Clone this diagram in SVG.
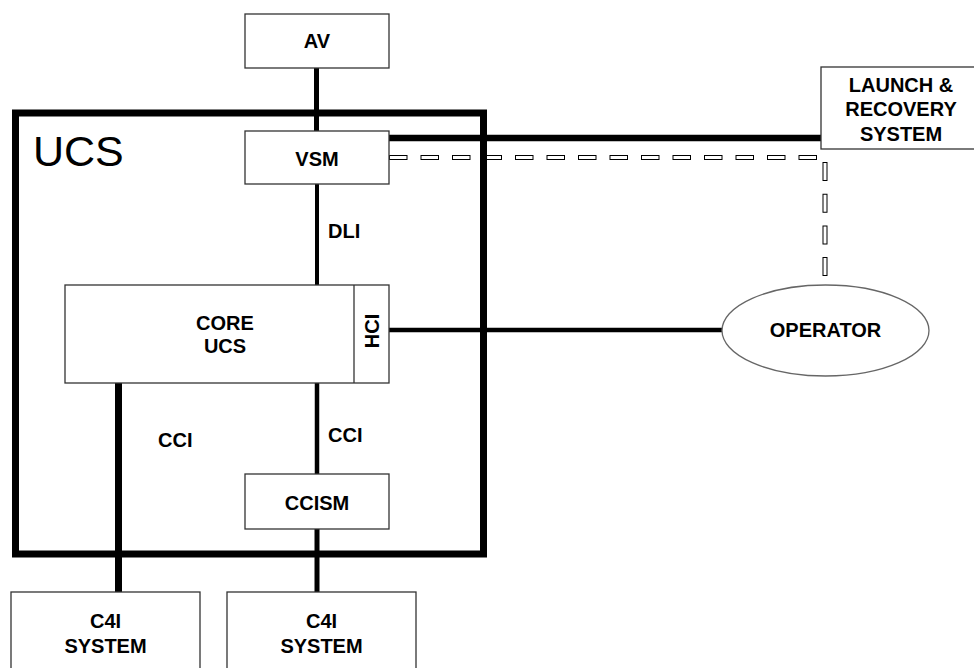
<svg xmlns="http://www.w3.org/2000/svg" width="974" height="668" viewBox="0 0 974 668">
<style>
.box{fill:#fff;stroke:#333;stroke-width:1.3}
.t{font-family:"Liberation Sans",Arial,sans-serif;font-weight:bold;font-size:20px;fill:#000}
.m{text-anchor:middle}
.ln{stroke:#000;fill:none;stroke-linecap:butt}
</style>
<rect width="974" height="668" fill="#fff"/>
<g id="connectors">
  <line class="ln" x1="316.5" y1="68" x2="316.5" y2="131" stroke-width="5"/>
  <line class="ln" x1="389" y1="138" x2="821" y2="138" stroke-width="6.5"/>
  <line class="ln" x1="317" y1="184" x2="317" y2="285" stroke-width="4"/>
  <line class="ln" x1="389" y1="330" x2="722" y2="330" stroke-width="4.5"/>
  <line class="ln" x1="118.5" y1="383" x2="118.5" y2="593" stroke-width="7"/>
  <line class="ln" x1="317" y1="383" x2="317" y2="474" stroke-width="4.5"/>
  <line class="ln" x1="317" y1="529" x2="317" y2="592" stroke-width="5"/>
  <g id="dashed">
    <path d="M389 157.5H817" stroke="#000" stroke-width="5" stroke-dasharray="18.5 13" fill="none"/>
    <path d="M389 157.5H817" stroke="#fff" stroke-width="3" stroke-dasharray="16.5 15" stroke-dashoffset="-1" fill="none"/>
    <path d="M825 162V276" stroke="#000" stroke-width="5" stroke-dasharray="19 12.7" fill="none"/>
    <path d="M825 162V276" stroke="#fff" stroke-width="3" stroke-dasharray="17 14.7" stroke-dashoffset="-1" fill="none"/>
  </g>
</g>
<g id="ucs">
  <rect x="15.5" y="113" width="468" height="441" fill="none" stroke="#000" stroke-width="7"/>
  <text x="33" y="166" font-family="Liberation Sans,Arial,sans-serif" font-size="43">UCS</text>
</g>
<g id="av">
  <rect class="box" x="245" y="14" width="144" height="54"/>
  <text class="t m" x="317" y="48">AV</text>
</g>
<g id="vsm">
  <rect class="box" x="245" y="131" width="144" height="53"/>
  <text class="t m" x="317" y="166">VSM</text>
</g>
<g id="launch">
  <rect class="box" x="821" y="67" width="164" height="82"/>
  <text class="t m" x="901" y="92">LAUNCH &amp;</text>
  <text class="t m" x="901" y="116">RECOVERY</text>
  <text class="t m" x="901" y="141">SYSTEM</text>
</g>
<g id="labels">
  <text class="t" x="328" y="238">DLI</text>
  <text class="t" x="158" y="447">CCI</text>
  <text class="t" x="328" y="442">CCI</text>
</g>
<g id="core">
  <rect class="box" x="65" y="285" width="324" height="98"/>
  <line x1="354" y1="285" x2="354" y2="383" stroke="#333" stroke-width="1.3"/>
  <text class="t m" x="225" y="330">CORE</text>
  <text class="t m" x="225" y="353">UCS</text>
  <text class="t m" transform="translate(379,331) rotate(-90)">HCI</text>
</g>
<g id="operator">
  <ellipse cx="825.5" cy="330.5" rx="103.5" ry="45.5" fill="#fff" stroke="#666" stroke-width="1.3"/>
  <text class="t m" x="825.5" y="337">OPERATOR</text>
</g>
<g id="ccism">
  <rect class="box" x="245" y="474" width="144" height="55"/>
  <text class="t m" x="317" y="510">CCISM</text>
</g>
<g id="c4i1">
  <rect class="box" x="11" y="592" width="189" height="90"/>
  <text class="t m" x="105.5" y="628">C4I</text>
  <text class="t m" x="105.5" y="653">SYSTEM</text>
</g>
<g id="c4i2">
  <rect class="box" x="227" y="592" width="189" height="90"/>
  <text class="t m" x="321.5" y="628">C4I</text>
  <text class="t m" x="321.5" y="653">SYSTEM</text>
</g>
</svg>
